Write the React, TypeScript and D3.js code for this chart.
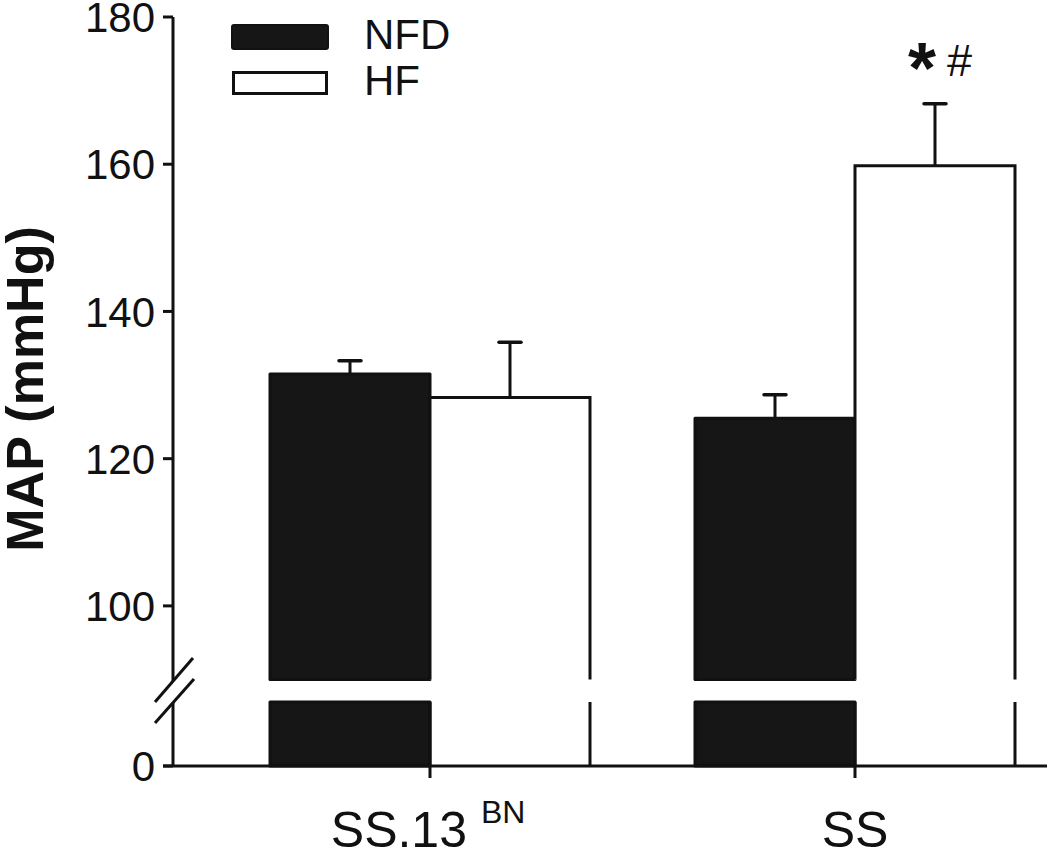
import React from "react";
import * as d3 from "d3";

const groups = ["SS.13", "SS"];
const groupSup = ["BN", ""];
const series = ["NFD", "HF"];
const nfdMeans = [131.5, 125.5];
const nfdErr = [1.8, 3.2];
const hfMeans = [128.3, 159.8];
const hfErr = [7.5, 8.4];
const yTicksTop = [100, 120, 140, 160, 180];
const yTicksBottom = [0];
const sigMarks = [["", ""], ["", "*#"]];

const W = 1050;
const H = 852;
const FONT = "'Liberation Sans', Arial, Helvetica, sans-serif";
const INK = "#111";

export default function App() {
  const yTop = d3.scaleLinear().domain([90, 180]).range([679.5, 17]);
  const yBot = d3.scaleLinear().domain([0, 10]).range([766, 702]);
  const xCenter = d3.scalePoint<string>().domain(groups).range([430, 855]);
  const xSub = d3.scaleBand<string>().domain(series).range([-160, 160]).padding(0);
  const bw = xSub.bandwidth();

  const values = [nfdMeans, hfMeans];
  const errs = [nfdErr, hfErr];
  const axisX = 173;
  const breakTopY = yTop(90);
  const breakBotY = yBot(10);

  return (
    <svg width={W} height={H} style={{ position: "absolute", left: 0, top: 0, background: "#fff" }}>
      {/* bars */}
      {groups.map((g, gi) =>
        series.map((s, si) => {
          const x0 = (xCenter(g) as number) + (xSub(s) as number);
          const x1 = x0 + bw;
          const v = values[si][gi];
          const e = errs[si][gi];
          const yv = yTop(v);
          const ye = yTop(v + e);
          const cx = (x0 + x1) / 2;
          const filled = s === "NFD";
          return (
            <g key={g + s}>
              {filled ? (
                <>
                  <rect x={x0} y={yv} width={bw} height={breakTopY - yv} fill="#161616" stroke={INK} strokeWidth={3} strokeLinejoin="round" />
                  <rect x={x0} y={breakBotY} width={bw} height={yBot(0) - breakBotY} fill="#161616" stroke={INK} strokeWidth={3} strokeLinejoin="round" />
                </>
              ) : (
                <>
                  <path d={`M${x0},${breakTopY}V${yv}H${x1}V${breakTopY}`} fill="#fff" stroke={INK} strokeWidth={3} />
                  <path d={`M${x0},${breakBotY}V${yBot(0)}M${x1},${breakBotY}V${yBot(0)}`} fill="none" stroke={INK} strokeWidth={3} />
                </>
              )}
              <line x1={cx} x2={cx} y1={yv} y2={ye} stroke={INK} strokeWidth={3} />
              <line x1={cx - 11} x2={cx + 11} y1={ye} y2={ye} stroke={INK} strokeWidth={3.5} strokeLinecap="round" />
              {sigMarks[gi][si] !== "" && (
                <g>
                  <text x={cx + 1} y={ye - 11} textAnchor="end" fontFamily={FONT} fontWeight="bold" fontSize={72} fill={INK}>*</text>
                  <text x={cx + 12} y={ye - 28} textAnchor="start" fontFamily={FONT} fontSize={45} fill={INK}>#</text>
                </g>
              )}
            </g>
          );
        })
      )}

      {/* y axis */}
      <line x1={axisX} x2={axisX} y1={yTop(180)} y2={681} stroke={INK} strokeWidth={3} />
      <line x1={axisX} x2={axisX} y1={703} y2={yBot(0)} stroke={INK} strokeWidth={3} />
      <line x1={193} y1={658} x2={155} y2={702} stroke={INK} strokeWidth={3} />
      <line x1={194} y1={679} x2={155} y2={723} stroke={INK} strokeWidth={3} />
      {yTicksTop.map((t) => (
        <g key={t}>
          <line x1={163} x2={axisX} y1={yTop(t)} y2={yTop(t)} stroke={INK} strokeWidth={3} />
          <text x={155} y={yTop(t)} dy="0.36em" textAnchor="end" fontFamily={FONT} fontSize={42} fill={INK}>{t}</text>
        </g>
      ))}
      {yTicksBottom.map((t) => (
        <g key={"b" + t}>
          <line x1={163} x2={axisX} y1={yBot(t)} y2={yBot(t)} stroke={INK} strokeWidth={3} />
          <text x={155} y={yBot(t)} dy="0.36em" textAnchor="end" fontFamily={FONT} fontSize={42} fill={INK}>{t}</text>
        </g>
      ))}

      {/* x axis */}
      <line x1={163} x2={1047} y1={yBot(0)} y2={yBot(0)} stroke={INK} strokeWidth={3} />
      {groups.map((g, gi) => {
        const cx = xCenter(g) as number;
        return (
          <g key={"x" + g}>
            <line x1={cx} x2={cx} y1={yBot(0)} y2={778} stroke={INK} strokeWidth={3} />
            <text x={gi === 0 ? cx + 37 : cx} y={847} textAnchor={gi === 0 ? "end" : "middle"} fontFamily={FONT} fontSize={50} fill={INK}>{g}</text>
            {groupSup[gi] && (
              <text x={cx + 51} y={823} textAnchor="start" fontFamily={FONT} fontSize={32} fill={INK}>{groupSup[gi]}</text>
            )}
          </g>
        );
      })}

      {/* y title */}
      <text transform={`translate(43,389) rotate(-90)`} textAnchor="middle" fontFamily={FONT} fontWeight="bold" fontSize={52} fill={INK}>MAP (mmHg)</text>

      {/* legend */}
      <rect x={232} y={25} width={96} height={24} rx={2} fill="#161616" stroke={INK} strokeWidth={2} />
      <rect x={233.5} y={72.5} width={93} height={21} fill="#fff" stroke={INK} strokeWidth={3} />
      <text x={364} y={49} fontFamily={FONT} fontSize={42} fill={INK}>{series[0]}</text>
      <text x={364} y={95} fontFamily={FONT} fontSize={42} fill={INK}>{series[1]}</text>
    </svg>
  );
}
